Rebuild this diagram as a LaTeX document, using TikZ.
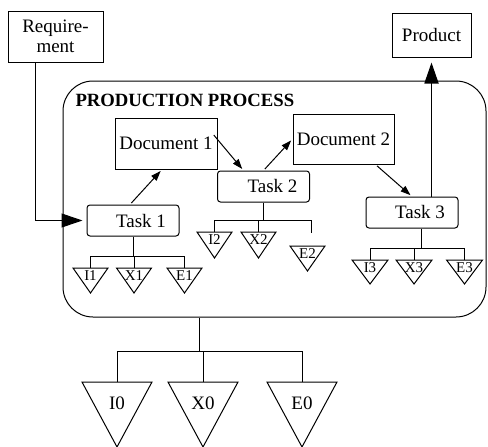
\documentclass[tikz,border=0pt]{standalone}
\usepackage{fontspec}
\setmainfont{Liberation Serif}
\usetikzlibrary{arrows.meta}

% name, centre x, top y, width, height, label offset, label style, label
\newcommand{\trinode}[8]{%
   \draw (#2-#4/2,#3) -- (#2+#4/2,#3) -- (#2,#3+#5) -- cycle;
   \coordinate (#1) at (#2,#3);
   \node[#7] (#1-l) at (#2,#3+#6) {#8};}

\begin{document}
\begin{tikzpicture}
   [x=1pt,y=-1pt,line width=1pt,
   every node/.style={inner sep=0pt,font=\fontsize{19}{20}\selectfont},
   box/.style={draw,minimum width=#1},
   task/.style={draw,rounded corners=3pt,minimum width=92pt,minimum height=31pt},
   small/.style={font=\fontsize{15}{15}\selectfont},
   arr/.style={-{Triangle[length=10pt,width=7pt]},shorten >=2pt,shorten <=2pt},
   bigarr/.style={-{Triangle[length=21pt,width=14pt]}}]

   \useasboundingbox (0,0) rectangle (488,447);

   \node[draw,rounded corners=30pt,minimum width=423pt,minimum height=236pt] (proc) at (274.5,199) {};
   \node[anchor=west,font=\fontsize{18.7}{20}\selectfont\bfseries] (title) at (75,100) {PRODUCTION PROCESS};

   \node[box=95pt,minimum height=51pt,align=center] (req) at (55.5,36.5) {Require-\\ment};
   \node[box=79pt,minimum height=44pt] (prod) at (431.5,35) {Product};

   \node[box=102pt,minimum height=51pt] (doc1) at (166,143.5) {Document 1};
   \node[box=101pt,minimum height=50pt] (doc2) at (343.5,139) {Document 2};

   \node[task] (task1) at (133,220.5) {\hspace*{16pt}Task 1};
   \node[task] (task2) at (263.5,186.5) {\hspace*{18pt}Task 2};
   \node[task] (task3) at (412,212.5) {\hspace*{16pt}Task 3};

   \draw[bigarr,shorten >=4pt] ([xshift=28pt]req.south west) |- (task1.west);
   \draw[arr] ([xshift=-3pt]task1.north) -- ([xshift=-4pt]doc1.south);
   \draw[arr] ([xshift=-5pt,yshift=10pt]doc1.east) -- ([xshift=-20pt]task2.north);
   \draw[arr] (task2.north) -- (doc2.west);
   \draw[arr] ([xshift=32pt]doc2.south) -- (task3.north);
   \draw[bigarr,line width=1.8pt,shorten >=5pt] (task3.north -| prod.south) -- (prod.south);

   \trinode{i1}{90.5}{268}{35}{25}{8}{small}{I1}
   \trinode{x1}{134}{268}{35}{25}{8}{small}{X1}
   \trinode{e1}{184.5}{268}{35}{25}{8}{small}{E1}
   \coordinate (bus1) at (134,256);
   \draw (task1.south) -- (task1.south |- bus1);
   \draw (i1 |- bus1) -- (e1 |- bus1);
   \draw (i1 |- bus1) -- (i1);
   \draw (x1 |- bus1) -- (x1);
   \draw (e1 |- bus1) -- (e1);

   \trinode{i2}{214.5}{232}{35}{26}{8}{small}{I2}
   \trinode{x2}{258.5}{232}{35}{26}{8}{small}{X2}
   \trinode{e2}{307.5}{246}{35}{25}{8}{small}{E2}
   \coordinate (bus2) at (261,220);
   \coordinate (e2stub) at (311,233);
   \draw (task2.south) -- (task2.south |- bus2);
   \draw (i2 |- bus2) -- (e2stub |- bus2);
   \draw (i2 |- bus2) -- (i2);
   \draw (x2 |- bus2) -- (x2);
   \draw (e2stub |- bus2) -- (e2stub);

   \trinode{i3}{370}{260}{36}{24}{8}{small}{I3}
   \trinode{x3}{414}{260}{36}{24}{8}{small}{X3}
   \trinode{e3}{464.5}{260}{36}{24}{8}{small}{E3}
   \coordinate (bus3) at (421,248);
   \draw ([xshift=9pt]task3.south) -- (bus3);
   \draw (i3 |- bus3) -- (e3 |- bus3);
   \draw (i3 |- bus3) -- (i3);
   \draw (x3 |- bus3) -- (x3);
   \draw (e3 |- bus3) -- (e3);

   \trinode{i0}{117}{382}{70}{65}{21}{}{I0}
   \trinode{x0}{203}{382}{70}{65}{21}{}{X0}
   \trinode{e0}{302}{382}{70}{65}{21}{}{E0}
   \coordinate (bus0) at (199,351);
   \draw (bus0 |- proc.south) -- (bus0);
   \draw (i0 |- bus0) -- (e0 |- bus0);
   \draw (i0 |- bus0) -- (i0);
   \draw (x0 |- bus0) -- (x0);
   \draw (e0 |- bus0) -- (e0);
\end{tikzpicture}
\end{document}
